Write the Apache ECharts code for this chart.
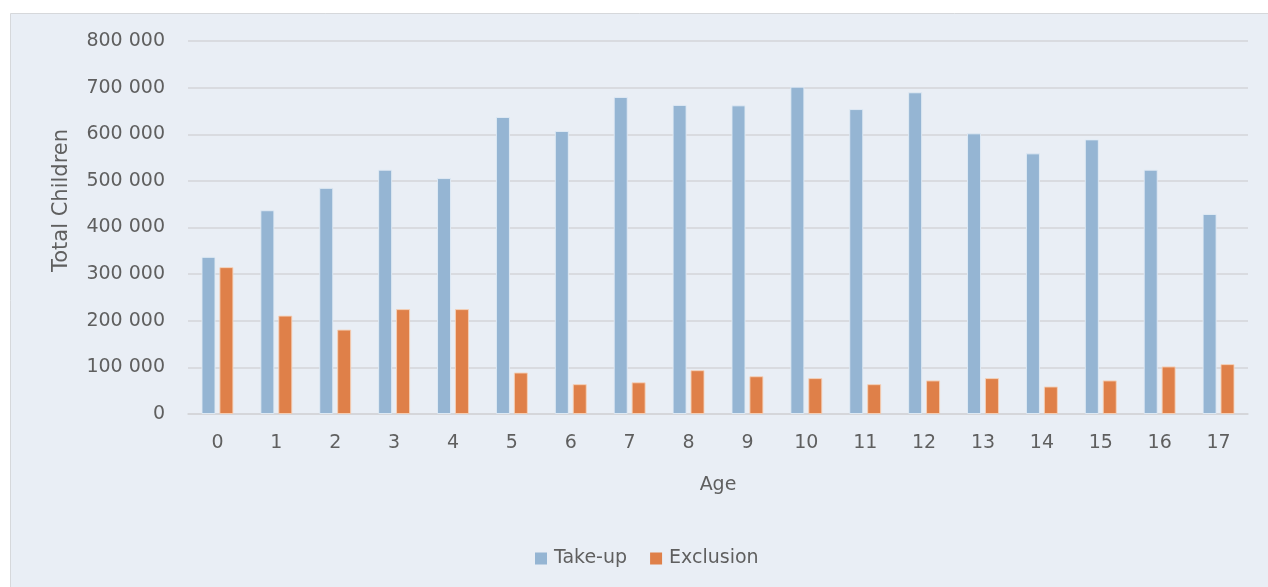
<!DOCTYPE html>
<html>
<head>
<meta charset="utf-8">
<script src="https://cdn.jsdelivr.net/npm/echarts@6/dist/echarts.min.js"></script>
<style>
html,body{margin:0;padding:0;background:#ffffff;}
#chart{width:1268px;height:587px;}
</style>
</head>
<body>
<div id="chart"></div>
<script>
const ages = ['0','1','2','3','4','5','6','7','8','9','10','11','12','13','14','15','16','17'];
const takeUp = [337000,437000,485000,524000,506000,637000,607000,680000,663000,662000,702000,654000,690000,602000,559000,589000,524000,429000];
const exclusion = [315000,211000,181000,225000,225000,89000,64000,68000,94000,81000,77000,64000,72000,77000,59000,72000,102000,107000];
const yTicks = [0,100000,200000,300000,400000,500000,600000,700000,800000];

const FONT = 'DejaVu Sans';
const TXT = '#5f5f5f';
function fmt(v){ return String(v).replace(/\B(?=(\d{3})+(?!\d))/g,' '); }

const chart = echarts.init(document.getElementById('chart'));
chart.setOption({
  backgroundColor: '#ffffff',
  animation: false,
  graphic: [{
    type: 'rect', z: -10, silent: true,
    shape: {x: 10.5, y: 13.5, width: 1270, height: 590},
    style: {fill: '#E9EEF5', stroke: '#D6D8DB', lineWidth: 1}
  }],
  textStyle: {fontFamily: FONT},
  grid: {left: 188, right: 20, top: 41, bottom: 173, containLabel: false},
  legend: {
    left: 530, top: 544,
    itemWidth: 12, itemHeight: 12, itemGap: 23,
    icon: 'rect',
    itemStyle: {borderWidth: 0},
    textStyle: {fontFamily: FONT, fontSize: 19, color: TXT, padding: [0,0,0,2]},
    data: ['Take-up','Exclusion']
  },
  xAxis: {
    type: 'category',
    data: ages,
    name: 'Age',
    nameLocation: 'middle',
    nameGap: 62,
    nameTextStyle: {fontFamily: FONT, fontSize: 19, color: TXT},
    axisLine: {show: true, lineStyle: {color: '#D3D5D8', width: 1.5}},
    axisTick: {show: false},
    axisLabel: {fontFamily: FONT, fontSize: 19, color: TXT, margin: 20}
  },
  yAxis: {
    type: 'value',
    min: 0, max: 800000, interval: 100000,
    name: 'Total Children',
    nameLocation: 'middle',
    nameGap: 116,
    nameRotate: 90,
    nameTextStyle: {fontFamily: FONT, fontSize: 21, color: TXT, padding: [0,0,0,54]},
    axisLine: {show: false},
    axisTick: {show: false},
    splitLine: {lineStyle: {color: '#D3D5D8', width: 1.5}},
    axisLabel: {
      fontFamily: FONT, fontSize: 19, color: TXT, margin: 23,
      formatter: function(v){ return yTicks.indexOf(v) >= 0 ? fmt(v) : ''; }
    }
  },
  series: [
    {
      name: 'Take-up', type: 'bar', data: takeUp,
      barWidth: 14, barGap: '28%',
      itemStyle: {color: '#95B5D3', borderColor: 'rgba(225,235,245,0.9)', borderWidth: 1}
    },
    {
      name: 'Exclusion', type: 'bar', data: exclusion,
      barWidth: 14, barGap: '28%',
      itemStyle: {color: '#DF8049', borderColor: 'rgba(245,210,185,0.9)', borderWidth: 1}
    }
  ]
});
</script>
</body>
</html>
